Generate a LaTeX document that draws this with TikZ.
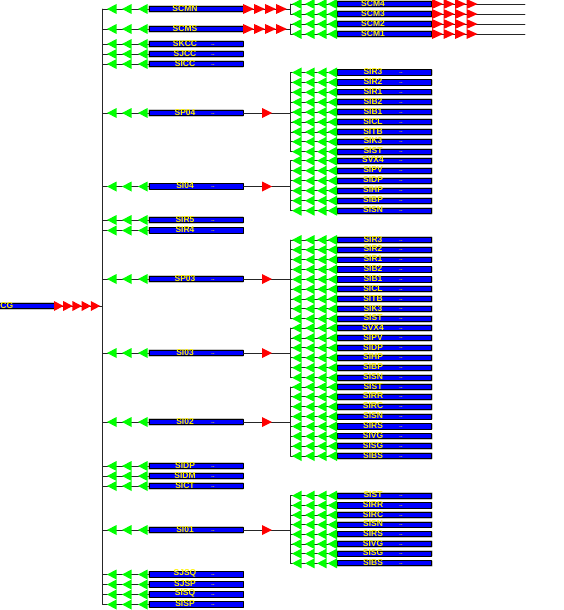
\documentclass[tikz,border=0pt]{standalone}
\usepackage{fontspec}
\setmainfont{Liberation Sans}

\tikzset{
  bar/.style={draw=black,fill=blue,line width=0.9pt,minimum width=94pt,minimum height=5.2pt,
    inner sep=0pt,preaction={draw=gray!45,line width=2.4pt}},
  barlab/.style={text=yellow,font=\bfseries\fontsize{8.5}{8.5}\selectfont,inner sep=0pt},
  tinylab/.style={text=yellow,font=\bfseries\fontsize{5.5}{5.5}\selectfont,inner sep=0pt},
  conn/.style={draw=black!85,line width=0.8pt},
}
% green tip pointing left at (x,y), red tip pointing right from base x
\newcommand{\gtri}[2]{\fill[green] (#1,#2) -- ++(9.5,-5) -- ++(0,10) -- cycle;}
\newcommand{\rtri}[3]{\fill[red] (#1,#2-5) -- (#1+#3,#2) -- (#1,#2+5) -- cycle;}

% item of the left column: [tiny text]{name}{y}{label}
\newcommand{\leftitem}[4][..]{%
  \coordinate (t-#2) at (102.5,#3);
  \node[bar] (#2) at (196,#3) {};
  \draw[conn] (t-#2) -- (#2.west);
  \foreach \gx in {107,122,138} {\gtri{\gx}{#3}}
  \node[barlab] (#2-lab) at (185,#3-0.8) {#4};
  \node[tinylab] (#2-tiny) at (213,#3+0.6) {#1};
}
% item of the right column: [tiny text]{name}{y}{label}
\newcommand{\rightitem}[4][..]{%
  \coordinate (b-#2) at (290.5,#3);
  \node[bar] (#2) at (384.5,#3) {};
  \draw[conn] (b-#2) -- (#2.west);
  \foreach \gx in {292,305,317,327.5} {\gtri{\gx}{#3}}
  \node[barlab] (#2-lab) at (373,#3-0.8) {#4};
  \node[tinylab] (#2-tiny) at (401,#3+0.6) {#1};
}
% children of a left item: {parent}{parent y}{first y}{step}{count}{labels}
\newcommand{\subgroup}[6]{%
  \coordinate (p-#1) at (290.5,#2);
  \draw[conn] (#1.east) -- (p-#1);
  \rtri{262}{#2}{10}
  \foreach \lab [count=\i] in {#6} {
    \pgfmathsetmacro{\yy}{#3+(\i-1)*#4}
    \rightitem{#1-\i}{\yy}{\lab}
  }
  \draw[conn] (b-#1-1) -- (b-#1-#5);
}

\begin{document}
\begin{tikzpicture}[x=1pt,y=-1pt,line cap=round,line join=round]
\useasboundingbox (0,0) rectangle (564,610);

% ---- root bar (cut by the left edge) ----
\node[bar] (root) at (7,306) {};
\node[barlab,anchor=west] (root-lab) at (0.2,305.2) {CG};
\coordinate (t-root) at (102.5,306);
\draw[conn] (root.east) -- (t-root);
\foreach \rx in {54,63.2,72.4,81.6,90.8} {\rtri{\rx}{306}{9.5}}

% ---- left column ----
\leftitem[]{scmn}{9}{SCMN}
\leftitem[]{scms}{29}{SCMS}
\leftitem{skcc}{44}{SKCC}
\leftitem{sjcc}{54}{SJCC}
\leftitem{sicc}{64}{SICC}
\leftitem{sp04}{113}{SP04}
\leftitem{si04}{186.5}{SI04}
\leftitem{sir5}{220}{SIR5}
\leftitem{sir4}{230.5}{SIR4}
\leftitem{sp03}{279}{SP03}
\leftitem{si03}{353}{SI03}
\leftitem{si02}{422}{SI02}
\leftitem{sidp}{466}{SIDP}
\leftitem{sidm}{476}{SIDM}
\leftitem{sict}{486}{SICT}
\leftitem{si01}{530}{SI01}
\leftitem{sjsq}{574.5}{SJSQ}
\leftitem{sjsp}{584.5}{SJSP}
\leftitem{sisq}{594.5}{SISQ}
\leftitem{sisp}{604.5}{SISP}
\draw[conn] (t-scmn) -- (t-sisp);

% ---- SCM branches ----
\coordinate (p-scmn) at (290.5,9);
\coordinate (p-scms) at (290.5,29);
\draw[conn] (scmn.east) -- (p-scmn);
\draw[conn] (scms.east) -- (p-scms);
\foreach \rx in {243,254,265,276} {\rtri{\rx}{9}{11} \rtri{\rx}{29}{11}}
\rightitem[]{scm4}{4}{SCM4}
\rightitem[]{scm3}{14}{SCM3}
\rightitem[]{scm2}{24}{SCM2}
\rightitem[]{scm1}{34}{SCM1}
\draw[conn] (b-scm4) -- (b-scm3);
\draw[conn] (b-scm2) -- (b-scm1);
\foreach \n/\y in {scm4/4,scm3/14,scm2/24,scm1/34} {
  \coordinate (e-\n) at (525,\y);
  \draw[conn] (\n.east) -- (e-\n);
  \foreach \rx in {432,443.5,455,466.5} {\rtri{\rx}{\y}{11}}
}

% ---- sub branches ----
\subgroup{sp04}{113}{72.5}{9.9}{9}{SIR3,SIR2,SIR1,SIB2,SIB1,SICL,SITB,SIK3,SIST}
\subgroup{si04}{186.5}{160.7}{10}{6}{SVX4,SIPV,SIDP,SIHP,SIBP,SISN}
\subgroup{sp03}{279}{240}{9.84}{9}{SIR3,SIR2,SIR1,SIB2,SIB1,SICL,SITB,SIK3,SIST}
\subgroup{si03}{353}{328}{9.94}{6}{SVX4,SIPV,SIDP,SIHP,SIBP,SISN}
\subgroup{si02}{422}{387}{9.86}{8}{SIST,SIRR,SIRC,SISN,SIRS,SIVG,SISG,SIBS}
\subgroup{si01}{530}{495.7}{9.66}{8}{SIST,SIRR,SIRC,SISN,SIRS,SIVG,SISG,SIBS}

\end{tikzpicture}
\end{document}
